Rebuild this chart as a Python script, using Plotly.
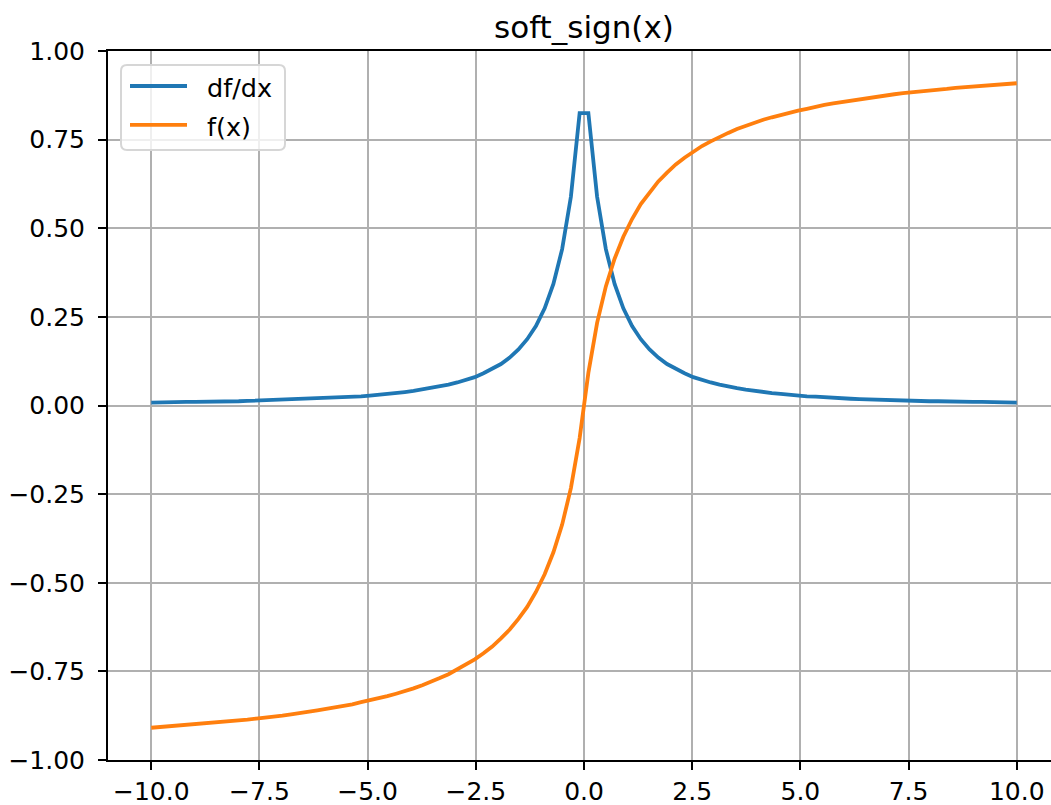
import plotly.graph_objects as go

# ---- data ----
x_vals = [-10.0, -9.798, -9.596, -9.394, -9.192, -8.990, -8.788, -8.586, -8.384, -8.182,
          -7.980, -7.778, -7.576, -7.374, -7.172, -6.970, -6.768, -6.566, -6.364, -6.162,
          -5.960, -5.758, -5.556, -5.354, -5.152, -4.949, -4.747, -4.545, -4.343, -4.141,
          -3.939, -3.737, -3.535, -3.333, -3.131, -2.929, -2.727, -2.525, -2.323, -2.121,
          -1.919, -1.717, -1.515, -1.313, -1.111, -0.909, -0.707, -0.505, -0.303, -0.101,
          0.101, 0.303, 0.505, 0.707, 0.909, 1.111, 1.313, 1.515, 1.717, 1.919,
          2.121, 2.323, 2.525, 2.727, 2.929, 3.131, 3.333, 3.535, 3.737, 3.939,
          4.141, 4.343, 4.545, 4.747, 4.949, 5.152, 5.354, 5.556, 5.758, 5.960,
          6.162, 6.364, 6.566, 6.768, 6.970, 7.172, 7.374, 7.576, 7.778, 7.980,
          8.182, 8.384, 8.586, 8.788, 8.990, 9.192, 9.394, 9.596, 9.798, 10.0]

dfdx_vals = [0.008, 0.009, 0.009, 0.009, 0.010, 0.010, 0.010, 0.011, 0.011, 0.012,
             0.012, 0.013, 0.014, 0.014, 0.015, 0.016, 0.017, 0.017, 0.018, 0.019,
             0.021, 0.022, 0.023, 0.025, 0.026, 0.028, 0.030, 0.033, 0.035, 0.038,
             0.041, 0.045, 0.049, 0.053, 0.059, 0.065, 0.072, 0.080, 0.091, 0.103,
             0.117, 0.135, 0.158, 0.187, 0.224, 0.274, 0.343, 0.441, 0.589, 0.825,
             0.825, 0.589, 0.441, 0.343, 0.274, 0.224, 0.187, 0.158, 0.135, 0.117,
             0.103, 0.091, 0.080, 0.072, 0.065, 0.059, 0.053, 0.049, 0.045, 0.041,
             0.038, 0.035, 0.033, 0.030, 0.028, 0.026, 0.025, 0.023, 0.022, 0.021,
             0.019, 0.018, 0.017, 0.017, 0.016, 0.015, 0.014, 0.014, 0.013, 0.012,
             0.012, 0.011, 0.011, 0.010, 0.010, 0.010, 0.009, 0.009, 0.009, 0.008]

fx_vals = [-0.909, -0.907, -0.906, -0.904, -0.902, -0.900, -0.898, -0.896, -0.893, -0.891,
           -0.889, -0.886, -0.883, -0.881, -0.878, -0.875, -0.871, -0.868, -0.864, -0.860,
           -0.856, -0.852, -0.848, -0.843, -0.837, -0.832, -0.826, -0.820, -0.813, -0.806,
           -0.798, -0.789, -0.780, -0.769, -0.758, -0.745, -0.732, -0.716, -0.699, -0.680,
           -0.657, -0.632, -0.602, -0.568, -0.526, -0.476, -0.414, -0.336, -0.233, -0.092,
           0.092, 0.233, 0.336, 0.414, 0.476, 0.526, 0.568, 0.602, 0.632, 0.657,
           0.680, 0.699, 0.716, 0.732, 0.745, 0.758, 0.769, 0.780, 0.789, 0.798,
           0.806, 0.813, 0.820, 0.826, 0.832, 0.837, 0.843, 0.848, 0.852, 0.856,
           0.860, 0.864, 0.868, 0.871, 0.875, 0.878, 0.881, 0.883, 0.886, 0.889,
           0.891, 0.893, 0.896, 0.898, 0.900, 0.902, 0.904, 0.906, 0.907, 0.909]

series_names = ["df/dx", "f(x)"]
series_colors = ["#1f77b4", "#ff7f0e"]

x_tickvals = [-10.0, -7.5, -5.0, -2.5, 0.0, 2.5, 5.0, 7.5, 10.0]
x_ticktext = ["\u221210.0", "\u22127.5", "\u22125.0", "\u22122.5", "0.0", "2.5", "5.0", "7.5", "10.0"]
y_tickvals = [-1.0, -0.75, -0.5, -0.25, 0.0, 0.25, 0.5, 0.75, 1.0]
y_ticktext = ["\u22121.00", "\u22120.75", "\u22120.50", "\u22120.25", "0.00", "0.25", "0.50", "0.75", "1.00"]

title_text = "soft_sign(x)"

# ---- layout geometry (pixels) ----
W, H = 1051, 805
L, T, B = 108, 51, 44.5
PW = W - L
PH = H - T - B
FONT = "DejaVu Sans"


def px_x(p):
    return (p - L) / PW


def px_y(p):
    return (H - B - p) / PH


fig = go.Figure()
fig.add_trace(go.Scatter(x=x_vals, y=dfdx_vals, mode="lines", name=series_names[0],
                         line=dict(color=series_colors[0], width=3.8), showlegend=False))
fig.add_trace(go.Scatter(x=x_vals, y=fx_vals, mode="lines", name=series_names[1],
                         line=dict(color=series_colors[1], width=3.8), showlegend=False))

axis_common = dict(
    showgrid=True, gridcolor="#b0b0b0", gridwidth=2,
    zeroline=False,
    ticks="outside", ticklen=8, tickwidth=2, tickcolor="black",
    showline=True, linecolor="black", linewidth=2,
    tickfont=dict(family=FONT, size=25, color="black"),
    automargin=False,
)

fig.update_layout(
    width=W, height=H,
    margin=dict(l=L, r=0, t=T, b=B, pad=0, autoexpand=False),
    paper_bgcolor="white", plot_bgcolor="white",
    font=dict(family=FONT, color="black"),
    title=dict(text=title_text, x=px_x((L + 1060) / 2), xref="paper", xanchor="center",
               y=1 - 27 / H, yref="container", yanchor="middle",
               font=dict(family=FONT, size=31, color="black")),
    xaxis=dict(range=[-11, 11 - (1060 - W) / 43.3], tickvals=x_tickvals, ticktext=x_ticktext,
               mirror=True, ticklabelstandoff=0, **axis_common),
    yaxis=dict(range=[-1, 1], tickvals=y_tickvals, ticktext=y_ticktext,
               ticklabelstandoff=8, **axis_common),
    showlegend=False,
)

# ---- legend box drawn like matplotlib's ----
bx0, bx1, by0, by1, rr = 121, 285, 65, 150, 6
path = (f"M {px_x(bx0 + rr)} {px_y(by0)} L {px_x(bx1 - rr)} {px_y(by0)} "
        f"Q {px_x(bx1)} {px_y(by0)} {px_x(bx1)} {px_y(by0 + rr)} "
        f"L {px_x(bx1)} {px_y(by1 - rr)} Q {px_x(bx1)} {px_y(by1)} {px_x(bx1 - rr)} {px_y(by1)} "
        f"L {px_x(bx0 + rr)} {px_y(by1)} Q {px_x(bx0)} {px_y(by1)} {px_x(bx0)} {px_y(by1 - rr)} "
        f"L {px_x(bx0)} {px_y(by0 + rr)} Q {px_x(bx0)} {px_y(by0)} {px_x(bx0 + rr)} {px_y(by0)} Z")
fig.add_shape(type="path", path=path, xref="paper", yref="paper",
              fillcolor="rgba(255,255,255,0.8)", line=dict(color="#d6d6d6", width=2), layer="above")

entry_y = [86, 125]
for name, color, ey in zip(series_names, series_colors, entry_y):
    fig.add_shape(type="line", xref="paper", yref="paper",
                  x0=px_x(130), x1=px_x(187), y0=px_y(ey), y1=px_y(ey),
                  line=dict(color=color, width=3.8), layer="above")
    fig.add_annotation(text=name, xref="paper", yref="paper", x=px_x(205), y=px_y(ey + 2),
                       xanchor="left", yanchor="middle", showarrow=False,
                       font=dict(family=FONT, size=25.5, color="black"))

fig.write_html("out.html", config={"displayModeBar": False},
               post_script="document.body.style.margin='0';document.body.style.overflow='hidden';")
